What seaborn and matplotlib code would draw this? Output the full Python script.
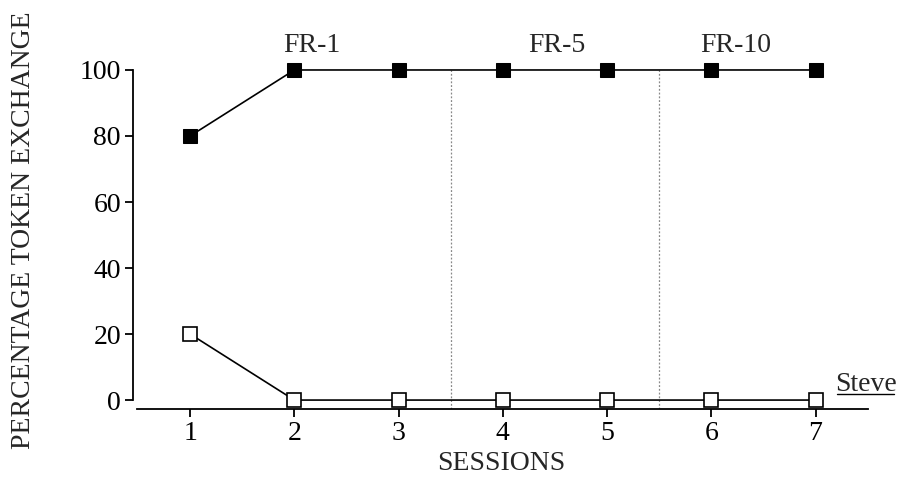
import matplotlib
matplotlib.use("Agg")
import matplotlib.pyplot as plt
import pandas as pd
import seaborn as sns

# Dados
sessions = [1, 2, 3, 4, 5, 6, 7]
exchange_filled = [80, 100, 100, 100, 100, 100, 100]
exchange_open = [20, 0, 0, 0, 0, 0, 0]
phase_lines = [3.5, 5.5]
phase_labels = ["FR-1", "FR-5", "FR-10"]
phase_label_x = [2.17, 4.52, 6.23]
y_ticks = [0, 20, 40, 60, 80, 100]

sns.set_theme(style="ticks")
plt.rcParams['font.family'] = ['Liberation Serif', 'DejaVu Serif']

df = pd.DataFrame({"session": sessions, "filled": exchange_filled, "open": exchange_open})

fig = plt.figure(figsize=(9.01, 4.78), dpi=100)
ax = fig.add_axes([0.152, 0.1444, 0.811, 0.7092])

for x in phase_lines:
    ax.plot([x, x], [-2.7, 100], color='#888888', lw=0.9, ls=(0, (1.5, 1.5)), zorder=1)

sns.lineplot(data=df, x="session", y="filled", ax=ax, color='black', lw=1.2,
             marker='s', markersize=10.5, markerfacecolor='black', markeredgecolor='black',
             clip_on=False, zorder=3)
sns.lineplot(data=df, x="session", y="open", ax=ax, color='black', lw=1.2,
             marker='s', markersize=10.5, markerfacecolor='white', markeredgecolor='black',
             markeredgewidth=1.2, clip_on=False, zorder=3)

ax.set_xlim(0.49, 7.5)
ax.set_ylim(-2.7, 100)
ax.set_xticks(sessions)
ax.set_yticks(y_ticks)

sns.despine(ax=ax)
ax.spines['left'].set_position(('outward', 3))
ax.spines['left'].set_bounds(0, 100)
for side in ['left', 'bottom']:
    ax.spines[side].set_linewidth(1.3)
    ax.spines[side].set_color('black')
ax.tick_params(axis='both', direction='out', length=5.5, width=1.3, labelsize=20,
               colors='black', pad=3)

ax.set_xlabel("SESSIONS", fontsize=20)
ax.xaxis.set_label_coords(0.498, -0.124)
ax.set_ylabel("PERCENTAGE TOKEN EXCHANGE", fontsize=20)
ax.yaxis.set_label_coords(-0.138, 0.528)

for lx, lab in zip(phase_label_x, phase_labels):
    ax.text(lx, 105.5, lab, fontsize=20, ha='center', va='baseline', clip_on=False)

ax.text(7.48, 2.7, "Steve", fontsize=20, ha='center', va='baseline', clip_on=False)
ax.plot([7.21, 7.75], [1.9, 1.9], color='black', lw=1.0, clip_on=False)

fig.savefig("out.png", dpi=100)
